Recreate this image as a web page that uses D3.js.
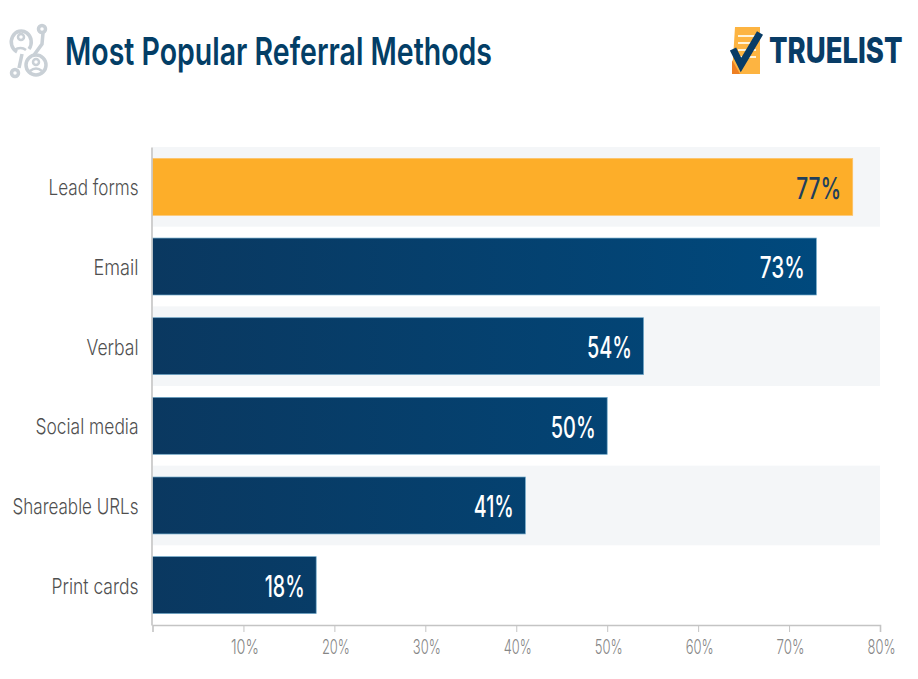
<!DOCTYPE html>
<html>
<head>
<meta charset="utf-8">
<script src="https://cdn.jsdelivr.net/npm/d3@7"></script>
<style>
  html, body { margin: 0; padding: 0; background: #fff; }
  svg { display: block; }
  text { font-family: Inter, "Noto Sans", sans-serif; }
</style>
</head>
<body>
<svg id="chart" width="918" height="679"></svg>
<script>
const categories = ["Lead forms", "Email", "Verbal", "Social media", "Shareable URLs", "Print cards"];
const values = [77, 73, 54, 50, 41, 18];
const tickValues = [10, 20, 30, 40, 50, 60, 70, 80];
const labelWidths = [90, 45, 52, 103, 126, 87];
const titleText = "Most Popular Referral Methods";
const brandText = "TRUELIST";

const width = 918;
const height = 679;
const margin = { top: 147, right: 38, bottom: 54, left: 152.5 };

const svg = d3.select("#chart").attr("viewBox", `0 0 ${width} ${height}`);

const x = d3.scaleLinear().domain([0, 80]).range([margin.left, width - margin.right]);
const y = d3.scaleBand()
  .domain(categories)
  .range([margin.top, height - margin.bottom])
  .paddingInner(0.285)
  .paddingOuter(0.143);

// the blue shifts across the whole plot, so short bars stay dark
const grad = svg.append("defs").append("linearGradient")
  .attr("id", "barBlue")
  .attr("gradientUnits", "userSpaceOnUse")
  .attr("x1", x(0))
  .attr("x2", x(73))
  .attr("y1", 0)
  .attr("y2", 0);
grad.append("stop").attr("offset", "0%").attr("stop-color", "#0a3860");
grad.append("stop").attr("offset", "100%").attr("stop-color", "#00497d");

// alternating stripes behind the bars
svg.append("g")
  .selectAll("rect")
  .data(categories.filter((d, i) => i % 2 === 0))
  .join("rect")
  .attr("x", x(0))
  .attr("width", x(80) - x(0))
  .attr("y", (d) => y(d) - y.step() * y.paddingInner() / 2)
  .attr("height", y.step())
  .attr("fill", "#f4f6f8");

// bars
svg.append("g")
  .selectAll("rect")
  .data(categories)
  .join("rect")
  .attr("x", x(0))
  .attr("y", (d) => y(d))
  .attr("width", (d, i) => x(values[i]) - x(0))
  .attr("height", y.bandwidth())
  .attr("fill", (d, i) => (i === 0 ? "#fdae29" : "url(#barBlue)"))
  .attr("stroke", (d, i) => (i === 0 ? "#fdc36a" : "#6fa8c9"))
  .attr("stroke-width", 0.7);

// value labels
svg.append("g")
  .selectAll("text")
  .data(categories)
  .join("text")
  .attr("x", (d, i) => x(values[i]) - 11.5)
  .attr("y", (d) => y(d) + y.bandwidth() / 2 + 1)
  .attr("dy", "0.36em")
  .attr("text-anchor", "end")
  .attr("font-size", 30)
  .attr("font-weight", 500)
  .attr("textLength", (d, i) => (String(values[i]).includes("1") ? 40 : 45))
  .attr("lengthAdjust", "spacingAndGlyphs")
  .attr("fill", (d, i) => (i === 0 ? "#1f3f5c" : "#ffffff"))
  .text((d, i) => values[i] + "%");

// axes
const xAxis = svg.append("g")
  .attr("transform", `translate(0,${height - margin.bottom})`)
  .call(d3.axisBottom(x).tickValues(tickValues).tickSize(7).tickPadding(8).tickFormat((d) => d + "%"));
xAxis.select(".domain").attr("stroke", "#c4c4c4").attr("stroke-width", 1.6);
xAxis.selectAll(".tick line").attr("stroke", "#c4c4c4");
xAxis.selectAll(".tick text")
  .attr("font-size", 20)
  .attr("font-weight", 300)
  .attr("fill", "#868686")
  .attr("dx", 1)
  .attr("textLength", 28)
  .attr("lengthAdjust", "spacingAndGlyphs");

const yAxis = svg.append("g")
  .attr("transform", `translate(${margin.left - 1},0)`)
  .call(d3.axisLeft(y).tickSize(0).tickPadding(13));
yAxis.select(".domain").attr("stroke", "#c4c4c4").attr("stroke-width", 1.6);
yAxis.selectAll(".tick text")
  .attr("font-size", 22)
  .attr("font-weight", 300)
  .attr("fill", "#4f4f4f")
  .attr("dy", "0.38em")
  .attr("textLength", (d, i) => labelWidths[i])
  .attr("lengthAdjust", "spacingAndGlyphs");

// title
svg.append("text")
  .attr("x", 65)
  .attr("y", 65)
  .attr("font-size", 38)
  .attr("font-weight", 600)
  .attr("fill", "#033e66")
  .attr("textLength", 427)
  .attr("lengthAdjust", "spacingAndGlyphs")
  .text(titleText);

// people / network icon next to the title
const icon = svg.append("g")
  .attr("fill", "none")
  .attr("stroke", "#c9d0d6")
  .attr("stroke-width", 3.5);
icon.append("path").attr("d", "M17 52 A 10 11 0 1 1 29 49");
icon.append("circle").attr("cx", 21).attr("cy", 37).attr("r", 3).attr("stroke-width", 2.5);
icon.append("path").attr("d", "M14 50 Q 21 46 26 50").attr("stroke-width", 2.5);
icon.append("circle").attr("cx", 36).attr("cy", 65).attr("r", 10);
icon.append("circle").attr("cx", 36).attr("cy", 62).attr("r", 3).attr("stroke-width", 2.5);
icon.append("path").attr("d", "M30 71 Q 36 66 42 71").attr("stroke-width", 2.5);
icon.append("path").attr("d", "M43 33 L42 44 L34 55");
icon.append("circle").attr("cx", 42).attr("cy", 29).attr("r", 3.5);
icon.append("path").attr("d", "M22 54 L19 68");
icon.append("circle").attr("cx", 15).attr("cy", 73).attr("r", 3.5);

// logo
const logo = svg.append("g");
logo.append("path").attr("d", "M735 27 L760 27 L760 74 L732 74 Z").attr("fill", "#fdb441");
logo.append("path").attr("d", "M732 60 L740 74 L732 74 Z").attr("fill", "#ee7f22");
logo.append("g")
  .attr("stroke", "#fff3d9")
  .attr("stroke-width", 2)
  .selectAll("line")
  .data(["a", "b", "c", "d"])
  .join("line")
  .attr("x1", 738)
  .attr("x2", 756)
  .attr("y1", (d, i) => 36 + i * 7)
  .attr("y2", (d, i) => 36 + i * 7);
logo.append("path")
  .attr("d", "M733 49 L741 65 L760 33")
  .attr("fill", "none")
  .attr("stroke", "#083c66")
  .attr("stroke-width", 7);
logo.append("text")
  .attr("transform", "translate(769,63) scale(0.785,1)")
  .attr("font-size", 35)
  .attr("font-weight", 800)
  .attr("fill", "#083c66")
  .text(brandText);
</script>
</body>
</html>
